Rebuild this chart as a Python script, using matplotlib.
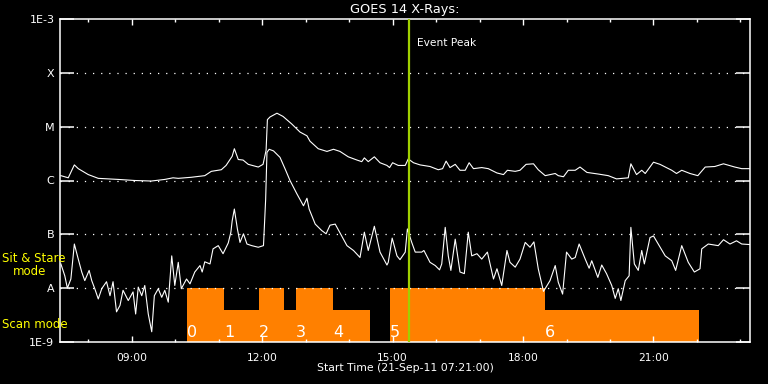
import matplotlib
matplotlib.use("Agg")
import numpy as np
import matplotlib.pyplot as plt
from matplotlib.ticker import FixedLocator, MultipleLocator, FuncFormatter, NullFormatter

# GOES 14, 21-Sep-2011, times in hours of the day, flux as log10(W/m^2)
long_time = [7.37, 7.54, 7.68, 7.77, 8.00, 8.23, 8.69, 9.07, 9.45, 9.76, 9.95, 10.07,
             10.37, 10.68, 10.83, 11.06, 11.17, 11.31, 11.36, 11.45, 11.56, 11.68, 11.91,
             12.02, 12.09, 12.12, 12.18, 12.34, 12.48, 12.68, 12.87, 13.03, 13.10, 13.29,
             13.49, 13.64, 13.79, 13.98, 14.18, 14.29, 14.35, 14.44, 14.58, 14.71, 14.87,
             14.93, 15.00, 15.13, 15.29, 15.36, 15.48, 15.63, 15.86, 16.05, 16.15, 16.23,
             16.32, 16.44, 16.55, 16.67, 16.76, 16.86, 17.05, 17.20, 17.40, 17.55, 17.64,
             17.82, 17.93, 18.07, 18.24, 18.35, 18.51, 18.74, 18.81, 18.93, 19.04, 19.20,
             19.31, 19.47, 19.73, 19.96, 20.15, 20.42, 20.48, 20.61, 20.73, 20.81, 21.00,
             21.15, 21.42, 21.53, 21.65, 21.84, 22.02, 22.19, 22.41, 22.61, 22.87, 23.03,
             23.22]
long_log_flux = [-5.91, -5.95, -5.71, -5.78, -5.89, -5.96, -5.98, -6.00, -6.01, -5.98, -5.95,
                 -5.96, -5.94, -5.91, -5.83, -5.80, -5.72, -5.55, -5.41, -5.61, -5.62, -5.70,
                 -5.75, -5.70, -5.44, -4.87, -4.82, -4.75, -4.81, -4.95, -5.10, -5.17, -5.27,
                 -5.41, -5.46, -5.42, -5.46, -5.56, -5.62, -5.65, -5.58, -5.65, -5.56, -5.67,
                 -5.72, -5.76, -5.67, -5.72, -5.72, -5.60, -5.67, -5.71, -5.74, -5.80, -5.78,
                 -5.64, -5.76, -5.70, -5.81, -5.81, -5.67, -5.78, -5.76, -5.78, -5.86, -5.89,
                 -5.81, -5.83, -5.81, -5.70, -5.69, -5.80, -5.91, -5.87, -5.91, -5.93, -5.81,
                 -5.81, -5.75, -5.85, -5.88, -5.91, -5.97, -5.95, -5.69, -5.89, -5.81, -5.87,
                 -5.66, -5.70, -5.81, -5.87, -5.81, -5.87, -5.91, -5.75, -5.74, -5.69, -5.75,
                 -5.78, -5.78]

short_time = [7.37, 7.46, 7.52, 7.60, 7.68, 7.77, 7.85, 7.92, 8.02, 8.08, 8.15, 8.23, 8.31,
              8.42, 8.50, 8.57, 8.65, 8.73, 8.80, 8.92, 9.03, 9.09, 9.15, 9.23, 9.30, 9.38,
              9.46, 9.52, 9.61, 9.69, 9.76, 9.84, 9.92, 9.99, 10.07, 10.14, 10.26, 10.34,
              10.45, 10.57, 10.62, 10.68, 10.80, 10.87, 10.99, 11.10, 11.22, 11.28, 11.31,
              11.36, 11.43, 11.49, 11.57, 11.65, 11.76, 11.91, 12.03, 12.08, 12.11, 12.16,
              12.26, 12.41, 12.53, 12.64, 12.80, 12.95, 13.03, 13.08, 13.22, 13.37, 13.47,
              13.56, 13.68, 13.83, 13.95, 14.10, 14.25, 14.35, 14.44, 14.58, 14.71, 14.87,
              14.90, 14.99, 15.10, 15.17, 15.29, 15.34, 15.44, 15.52, 15.67, 15.72, 15.86,
              15.98, 16.08, 16.13, 16.21, 16.28, 16.34, 16.44, 16.55, 16.65, 16.74, 16.82,
              16.94, 17.05, 17.18, 17.32, 17.40, 17.51, 17.63, 17.70, 17.82, 17.93, 18.05,
              18.16, 18.25, 18.35, 18.47, 18.62, 18.74, 18.81, 18.91, 19.00, 19.12, 19.20,
              19.29, 19.43, 19.52, 19.58, 19.72, 19.81, 19.92, 20.04, 20.12, 20.19, 20.25,
              20.35, 20.44, 20.48, 20.56, 20.65, 20.73, 20.79, 20.92, 21.00, 21.11, 21.27,
              21.42, 21.51, 21.65, 21.80, 21.94, 22.07, 22.11, 22.26, 22.49, 22.61, 22.76,
              22.91, 23.03, 23.22]
short_log_flux = [-7.55, -7.77, -8.00, -7.83, -7.18, -7.46, -7.70, -7.86, -7.67, -7.86, -8.01,
                  -8.20, -8.01, -7.88, -8.14, -7.88, -8.44, -8.32, -8.04, -8.23, -8.07, -8.48,
                  -7.98, -8.14, -7.95, -8.48, -8.81, -8.14, -8.01, -8.17, -8.04, -8.26, -7.40,
                  -7.95, -7.52, -8.01, -7.83, -7.92, -7.70, -7.58, -7.70, -7.51, -7.55, -7.27,
                  -7.21, -7.36, -7.16, -6.96, -6.75, -6.53, -6.90, -7.15, -6.99, -7.18, -7.21,
                  -7.24, -7.21, -6.35, -5.48, -5.42, -5.45, -5.57, -5.79, -6.00, -6.25, -6.47,
                  -6.33, -6.53, -6.81, -6.93, -6.99, -6.83, -6.81, -7.03, -7.21, -7.30, -7.43,
                  -6.96, -7.30, -6.85, -7.33, -7.57, -7.52, -7.07, -7.40, -7.47, -7.33, -6.90,
                  -7.15, -7.33, -7.33, -7.30, -7.52, -7.58, -7.66, -7.55, -6.87, -7.40, -7.67,
                  -7.09, -7.70, -7.73, -6.96, -7.40, -7.36, -7.46, -7.33, -7.83, -7.64, -7.95,
                  -7.30, -7.52, -7.61, -7.46, -7.15, -7.24, -7.14, -7.64, -8.06, -7.86, -7.58,
                  -7.89, -8.11, -7.33, -7.46, -7.43, -7.18, -7.46, -7.63, -7.49, -7.80, -7.57,
                  -7.73, -7.95, -8.19, -8.01, -8.23, -7.86, -7.77, -6.87, -7.55, -7.67, -7.30,
                  -7.55, -7.06, -7.03, -7.18, -7.40, -7.49, -7.67, -7.21, -7.52, -7.70, -7.64,
                  -7.27, -7.18, -7.21, -7.10, -7.18, -7.12, -7.18, -7.19]

# observing mode blocks
stare_start = [10.28, 11.93, 12.78, 14.94]
stare_end = [11.13, 12.51, 13.63, 18.51]
scan_start = [11.13, 12.51, 13.63, 18.51]
scan_end = [11.93, 12.78, 14.48, 22.05]
raster_start = [10.28, 11.13, 11.93, 12.78, 13.63, 14.94, 18.51]
raster_labels = ["0", "1", "2", "3", "4", "5", "6"]

peak_time = 15.38
t_start, t_end = 7.35, 23.22

class_flux = [1e-9, 1e-8, 1e-7, 1e-6, 1e-5, 1e-4, 1e-3]
class_labels = ["1E-9", "A", "B", "C", "M", "X", "1E-3"]

ORANGE = "#ff8000"
GREEN = "#a0d000"
YELLOW = "#ffff00"
STARE_LEVEL = 1e-8
SCAN_LEVEL = 4e-9

fig = plt.figure(figsize=(7.68, 3.84), dpi=100, facecolor="black")
ax = fig.add_axes([60 / 768, 42 / 384, 690 / 768, 323 / 384], facecolor="black")

for s, e in zip(scan_start, scan_end):
    ax.fill_between([s, e], 1e-9, SCAN_LEVEL, color=ORANGE, lw=0, zorder=1)
for s, e in zip(stare_start, stare_end):
    ax.fill_between([s, e], 1e-9, STARE_LEVEL, color=ORANGE, lw=0, zorder=1)

ax.plot(long_time, 10 ** np.array(long_log_flux), color="white", lw=0.8, zorder=3)
ax.plot(short_time, 10 ** np.array(short_log_flux), color="white", lw=0.8, zorder=3)

ax.axvline(peak_time, color=GREEN, lw=1.6, zorder=4)
ax.annotate("Event Peak", xy=(peak_time, 0.926), xycoords=("data", "axes fraction"),
            xytext=(6, 0), textcoords="offset points", color="white",
            fontsize=7.7, va="center", ha="left")

for t, lab in zip(raster_start, raster_labels):
    ax.annotate(lab, xy=(t, 0), xycoords=("data", "axes fraction"),
                xytext=(0, 1.5), textcoords="offset points", color="white",
                fontsize=11.5, va="bottom", ha="left", zorder=5)

ax.set_yscale("log")
ax.set_ylim(1e-9, 1e-3)
ax.set_xlim(t_start, t_end)

ax.yaxis.set_major_locator(FixedLocator(class_flux))
ax.set_yticklabels(class_labels)
ax.yaxis.set_minor_locator(FixedLocator([]))
ax.yaxis.set_minor_formatter(NullFormatter())

ax.xaxis.set_major_locator(FixedLocator([9, 12, 15, 18, 21]))
ax.xaxis.set_minor_locator(MultipleLocator(1))
ax.xaxis.set_major_formatter(FuncFormatter(lambda v, p: "%02d:00" % int(round(v))))

ax.tick_params(axis="y", which="major", direction="in", left=True, right=True,
               length=10, width=1.1, color="white", labelcolor="white",
               labelsize=8, pad=4)
ax.tick_params(axis="x", which="major", direction="in", top=True, bottom=True,
               length=4.5, width=1, color="white", labelcolor="white",
               labelsize=7.7, pad=8)
ax.tick_params(axis="x", which="minor", direction="in", top=True, bottom=True,
               length=2.5, width=1, color="white")

for g in class_flux[1:-1]:
    ax.axhline(g, color="white", lw=0.9, ls=(0, (1, 5.5)), zorder=2)

for sp in ax.spines.values():
    sp.set_color("white")
    sp.set_linewidth(1.1)

fig.text(405 / 768, 1 - 9.5 / 384, "GOES 14 X-Rays:", color="white", fontsize=9.3,
         ha="center", va="center")
fig.text(405 / 768, 1 - 368 / 384, "Start Time (21-Sep-11 07:21:00)", color="white",
         fontsize=7.8, ha="center", va="center")
fig.text(2 / 768, 1 - 259 / 384, "Sit & Stare", color=YELLOW, fontsize=8.5,
         ha="left", va="center")
fig.text(13 / 768, 1 - 271.5 / 384, "mode", color=YELLOW, fontsize=8.5,
         ha="left", va="center")
fig.text(2 / 768, 1 - 324 / 384, "Scan mode", color=YELLOW, fontsize=8.5,
         ha="left", va="center")

fig.savefig("out.png", dpi=100, facecolor="black")
